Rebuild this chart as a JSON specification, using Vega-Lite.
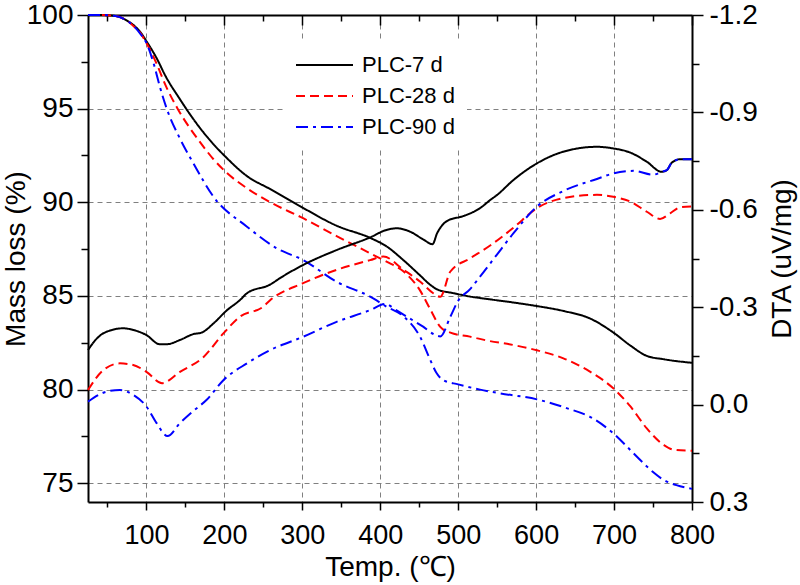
{
  "$schema": "https://vega.github.io/schema/vega-lite/v6.json",
  "width": 604,
  "height": 487,
  "autosize": {"type": "none"},
  "padding": {"left": 88, "top": 15, "right": 108, "bottom": 83},
  "background": "white",
  "config": {
    "view": {"stroke": null},
    "font": "Liberation Sans",
    "axis": {
      "domainColor": "black", "domainWidth": 2, "tickColor": "black", "tickWidth": 1.5,
      "labelColor": "black", "labelFont": "Liberation Sans", "titleColor": "black",
      "titleFont": "Liberation Sans", "titleFontWeight": "normal", "labelFlush": false,
      "labelOverlap": false, "gridColor": "#808080", "gridDash": [5, 4], "gridWidth": 1, "gridOpacity": 1
    }
  },
  "datasets": {
    "tg": [
      {"T":25,"v":100,"sample":"PLC-7 d"},{"T":40,"v":100,"sample":"PLC-7 d"},{"T":60,"v":99.95,"sample":"PLC-7 d"},{"T":75,"v":99.7,"sample":"PLC-7 d"},{"T":85,"v":99.4,"sample":"PLC-7 d"},{"T":92,"v":99.1,"sample":"PLC-7 d"},{"T":100,"v":98.6,"sample":"PLC-7 d"},{"T":113,"v":97.7,"sample":"PLC-7 d"},{"T":125,"v":96.7,"sample":"PLC-7 d"},{"T":143,"v":95.5,"sample":"PLC-7 d"},{"T":155,"v":94.75,"sample":"PLC-7 d"},{"T":169,"v":93.95,"sample":"PLC-7 d"},{"T":186,"v":93.1,"sample":"PLC-7 d"},{"T":201,"v":92.45,"sample":"PLC-7 d"},{"T":229,"v":91.4,"sample":"PLC-7 d"},{"T":259,"v":90.7,"sample":"PLC-7 d"},{"T":301,"v":89.7,"sample":"PLC-7 d"},{"T":344,"v":88.75,"sample":"PLC-7 d"},{"T":387,"v":88.1,"sample":"PLC-7 d"},{"T":408,"v":87.65,"sample":"PLC-7 d"},{"T":430,"v":86.9,"sample":"PLC-7 d"},{"T":451,"v":86.1,"sample":"PLC-7 d"},{"T":464,"v":85.6,"sample":"PLC-7 d"},{"T":473,"v":85.35,"sample":"PLC-7 d"},{"T":494,"v":85.15,"sample":"PLC-7 d"},{"T":515,"v":84.97,"sample":"PLC-7 d"},{"T":537,"v":84.84,"sample":"PLC-7 d"},{"T":571,"v":84.65,"sample":"PLC-7 d"},{"T":601,"v":84.46,"sample":"PLC-7 d"},{"T":635,"v":84.2,"sample":"PLC-7 d"},{"T":669,"v":83.8,"sample":"PLC-7 d"},{"T":699,"v":83.05,"sample":"PLC-7 d"},{"T":721,"v":82.35,"sample":"PLC-7 d"},{"T":742,"v":81.8,"sample":"PLC-7 d"},{"T":764,"v":81.62,"sample":"PLC-7 d"},{"T":800,"v":81.43,"sample":"PLC-7 d"},
      {"T":25,"v":100,"sample":"PLC-28 d"},{"T":40,"v":100,"sample":"PLC-28 d"},{"T":60,"v":99.95,"sample":"PLC-28 d"},{"T":75,"v":99.7,"sample":"PLC-28 d"},{"T":85,"v":99.35,"sample":"PLC-28 d"},{"T":92,"v":99.05,"sample":"PLC-28 d"},{"T":100,"v":98.5,"sample":"PLC-28 d"},{"T":113,"v":97.4,"sample":"PLC-28 d"},{"T":125,"v":96.2,"sample":"PLC-28 d"},{"T":140,"v":95.0,"sample":"PLC-28 d"},{"T":169,"v":93.2,"sample":"PLC-28 d"},{"T":186,"v":92.3,"sample":"PLC-28 d"},{"T":201,"v":91.65,"sample":"PLC-28 d"},{"T":229,"v":90.75,"sample":"PLC-28 d"},{"T":259,"v":90.0,"sample":"PLC-28 d"},{"T":301,"v":89.15,"sample":"PLC-28 d"},{"T":344,"v":88.2,"sample":"PLC-28 d"},{"T":387,"v":87.28,"sample":"PLC-28 d"},{"T":408,"v":86.83,"sample":"PLC-28 d"},{"T":430,"v":86.3,"sample":"PLC-28 d"},{"T":451,"v":85.3,"sample":"PLC-28 d"},{"T":464,"v":84.3,"sample":"PLC-28 d"},{"T":477,"v":83.35,"sample":"PLC-28 d"},{"T":490,"v":83.04,"sample":"PLC-28 d"},{"T":515,"v":82.83,"sample":"PLC-28 d"},{"T":537,"v":82.62,"sample":"PLC-28 d"},{"T":571,"v":82.38,"sample":"PLC-28 d"},{"T":601,"v":82.1,"sample":"PLC-28 d"},{"T":635,"v":81.67,"sample":"PLC-28 d"},{"T":669,"v":80.96,"sample":"PLC-28 d"},{"T":699,"v":80.07,"sample":"PLC-28 d"},{"T":721,"v":79.1,"sample":"PLC-28 d"},{"T":742,"v":77.93,"sample":"PLC-28 d"},{"T":764,"v":77.04,"sample":"PLC-28 d"},{"T":776,"v":76.8,"sample":"PLC-28 d"},{"T":800,"v":76.73,"sample":"PLC-28 d"},
      {"T":25,"v":100,"sample":"PLC-90 d"},{"T":40,"v":100,"sample":"PLC-90 d"},{"T":60,"v":99.95,"sample":"PLC-90 d"},{"T":75,"v":99.7,"sample":"PLC-90 d"},{"T":85,"v":99.35,"sample":"PLC-90 d"},{"T":92,"v":99.0,"sample":"PLC-90 d"},{"T":100,"v":98.5,"sample":"PLC-90 d"},{"T":110,"v":97.3,"sample":"PLC-90 d"},{"T":117,"v":96.2,"sample":"PLC-90 d"},{"T":126,"v":95.0,"sample":"PLC-90 d"},{"T":143,"v":93.4,"sample":"PLC-90 d"},{"T":160,"v":92.1,"sample":"PLC-90 d"},{"T":186,"v":90.3,"sample":"PLC-90 d"},{"T":229,"v":88.7,"sample":"PLC-90 d"},{"T":267,"v":87.55,"sample":"PLC-90 d"},{"T":301,"v":86.92,"sample":"PLC-90 d"},{"T":344,"v":85.76,"sample":"PLC-90 d"},{"T":387,"v":84.96,"sample":"PLC-90 d"},{"T":408,"v":84.43,"sample":"PLC-90 d"},{"T":430,"v":83.9,"sample":"PLC-90 d"},{"T":451,"v":82.83,"sample":"PLC-90 d"},{"T":464,"v":81.6,"sample":"PLC-90 d"},{"T":472,"v":80.9,"sample":"PLC-90 d"},{"T":481,"v":80.5,"sample":"PLC-90 d"},{"T":500,"v":80.28,"sample":"PLC-90 d"},{"T":528,"v":80.0,"sample":"PLC-90 d"},{"T":554,"v":79.8,"sample":"PLC-90 d"},{"T":601,"v":79.48,"sample":"PLC-90 d"},{"T":640,"v":79.0,"sample":"PLC-90 d"},{"T":669,"v":78.55,"sample":"PLC-90 d"},{"T":699,"v":77.67,"sample":"PLC-90 d"},{"T":725,"v":76.6,"sample":"PLC-90 d"},{"T":742,"v":75.9,"sample":"PLC-90 d"},{"T":750,"v":75.6,"sample":"PLC-90 d"},{"T":764,"v":75.17,"sample":"PLC-90 d"},{"T":780,"v":74.9,"sample":"PLC-90 d"},{"T":800,"v":74.7,"sample":"PLC-90 d"}
    ],
    "dta": [
      {"T":25,"v":-0.168,"sample":"PLC-7 d"},{"T":35,"v":-0.2,"sample":"PLC-7 d"},{"T":45,"v":-0.22,"sample":"PLC-7 d"},{"T":70,"v":-0.235,"sample":"PLC-7 d"},{"T":83,"v":-0.23,"sample":"PLC-7 d"},{"T":100,"v":-0.214,"sample":"PLC-7 d"},{"T":117,"v":-0.186,"sample":"PLC-7 d"},{"T":126,"v":-0.186,"sample":"PLC-7 d"},{"T":143,"v":-0.199,"sample":"PLC-7 d"},{"T":160,"v":-0.217,"sample":"PLC-7 d"},{"T":171,"v":-0.222,"sample":"PLC-7 d"},{"T":186,"v":-0.25,"sample":"PLC-7 d"},{"T":203,"v":-0.29,"sample":"PLC-7 d"},{"T":220,"v":-0.322,"sample":"PLC-7 d"},{"T":229,"v":-0.343,"sample":"PLC-7 d"},{"T":259,"v":-0.37,"sample":"PLC-7 d"},{"T":271,"v":-0.389,"sample":"PLC-7 d"},{"T":301,"v":-0.43,"sample":"PLC-7 d"},{"T":344,"v":-0.476,"sample":"PLC-7 d"},{"T":387,"v":-0.515,"sample":"PLC-7 d"},{"T":408,"v":-0.538,"sample":"PLC-7 d"},{"T":421,"v":-0.543,"sample":"PLC-7 d"},{"T":438,"v":-0.533,"sample":"PLC-7 d"},{"T":455,"v":-0.509,"sample":"PLC-7 d"},{"T":467,"v":-0.494,"sample":"PLC-7 d"},{"T":473,"v":-0.528,"sample":"PLC-7 d"},{"T":486,"v":-0.566,"sample":"PLC-7 d"},{"T":507,"v":-0.581,"sample":"PLC-7 d"},{"T":528,"v":-0.605,"sample":"PLC-7 d"},{"T":541,"v":-0.63,"sample":"PLC-7 d"},{"T":550,"v":-0.646,"sample":"PLC-7 d"},{"T":571,"v":-0.692,"sample":"PLC-7 d"},{"T":601,"v":-0.743,"sample":"PLC-7 d"},{"T":635,"v":-0.779,"sample":"PLC-7 d"},{"T":678,"v":-0.794,"sample":"PLC-7 d"},{"T":699,"v":-0.789,"sample":"PLC-7 d"},{"T":721,"v":-0.776,"sample":"PLC-7 d"},{"T":742,"v":-0.748,"sample":"PLC-7 d"},{"T":761,"v":-0.717,"sample":"PLC-7 d"},{"T":768,"v":-0.723,"sample":"PLC-7 d"},{"T":774,"v":-0.745,"sample":"PLC-7 d"},{"T":785,"v":-0.756,"sample":"PLC-7 d"},{"T":800,"v":-0.756,"sample":"PLC-7 d"},
      {"T":25,"v":-0.045,"sample":"PLC-28 d"},{"T":45,"v":-0.107,"sample":"PLC-28 d"},{"T":66,"v":-0.127,"sample":"PLC-28 d"},{"T":83,"v":-0.122,"sample":"PLC-28 d"},{"T":100,"v":-0.101,"sample":"PLC-28 d"},{"T":120,"v":-0.066,"sample":"PLC-28 d"},{"T":143,"v":-0.101,"sample":"PLC-28 d"},{"T":173,"v":-0.146,"sample":"PLC-28 d"},{"T":199,"v":-0.22,"sample":"PLC-28 d"},{"T":220,"v":-0.271,"sample":"PLC-28 d"},{"T":250,"v":-0.302,"sample":"PLC-28 d"},{"T":259,"v":-0.322,"sample":"PLC-28 d"},{"T":301,"v":-0.374,"sample":"PLC-28 d"},{"T":344,"v":-0.415,"sample":"PLC-28 d"},{"T":387,"v":-0.445,"sample":"PLC-28 d"},{"T":404,"v":-0.456,"sample":"PLC-28 d"},{"T":430,"v":-0.415,"sample":"PLC-28 d"},{"T":451,"v":-0.379,"sample":"PLC-28 d"},{"T":468,"v":-0.343,"sample":"PLC-28 d"},{"T":477,"v":-0.332,"sample":"PLC-28 d"},{"T":490,"v":-0.41,"sample":"PLC-28 d"},{"T":515,"v":-0.45,"sample":"PLC-28 d"},{"T":541,"v":-0.49,"sample":"PLC-28 d"},{"T":571,"v":-0.545,"sample":"PLC-28 d"},{"T":601,"v":-0.605,"sample":"PLC-28 d"},{"T":635,"v":-0.636,"sample":"PLC-28 d"},{"T":678,"v":-0.646,"sample":"PLC-28 d"},{"T":699,"v":-0.64,"sample":"PLC-28 d"},{"T":721,"v":-0.625,"sample":"PLC-28 d"},{"T":742,"v":-0.594,"sample":"PLC-28 d"},{"T":759,"v":-0.572,"sample":"PLC-28 d"},{"T":772,"v":-0.589,"sample":"PLC-28 d"},{"T":785,"v":-0.608,"sample":"PLC-28 d"},{"T":800,"v":-0.61,"sample":"PLC-28 d"},
      {"T":25,"v":-0.009,"sample":"PLC-90 d"},{"T":49,"v":-0.04,"sample":"PLC-90 d"},{"T":66,"v":-0.045,"sample":"PLC-90 d"},{"T":83,"v":-0.03,"sample":"PLC-90 d"},{"T":100,"v":0.006,"sample":"PLC-90 d"},{"T":113,"v":0.057,"sample":"PLC-90 d"},{"T":127,"v":0.097,"sample":"PLC-90 d"},{"T":143,"v":0.057,"sample":"PLC-90 d"},{"T":160,"v":0.02,"sample":"PLC-90 d"},{"T":177,"v":-0.014,"sample":"PLC-90 d"},{"T":199,"v":-0.076,"sample":"PLC-90 d"},{"T":229,"v":-0.127,"sample":"PLC-90 d"},{"T":259,"v":-0.168,"sample":"PLC-90 d"},{"T":301,"v":-0.209,"sample":"PLC-90 d"},{"T":344,"v":-0.255,"sample":"PLC-90 d"},{"T":387,"v":-0.291,"sample":"PLC-90 d"},{"T":406,"v":-0.31,"sample":"PLC-90 d"},{"T":421,"v":-0.29,"sample":"PLC-90 d"},{"T":438,"v":-0.265,"sample":"PLC-90 d"},{"T":455,"v":-0.24,"sample":"PLC-90 d"},{"T":470,"v":-0.215,"sample":"PLC-90 d"},{"T":477,"v":-0.21,"sample":"PLC-90 d"},{"T":490,"v":-0.271,"sample":"PLC-90 d"},{"T":500,"v":-0.32,"sample":"PLC-90 d"},{"T":515,"v":-0.355,"sample":"PLC-90 d"},{"T":528,"v":-0.394,"sample":"PLC-90 d"},{"T":550,"v":-0.463,"sample":"PLC-90 d"},{"T":571,"v":-0.528,"sample":"PLC-90 d"},{"T":601,"v":-0.61,"sample":"PLC-90 d"},{"T":635,"v":-0.658,"sample":"PLC-90 d"},{"T":678,"v":-0.695,"sample":"PLC-90 d"},{"T":699,"v":-0.712,"sample":"PLC-90 d"},{"T":725,"v":-0.72,"sample":"PLC-90 d"},{"T":750,"v":-0.708,"sample":"PLC-90 d"},{"T":761,"v":-0.717,"sample":"PLC-90 d"},{"T":768,"v":-0.723,"sample":"PLC-90 d"},{"T":774,"v":-0.745,"sample":"PLC-90 d"},{"T":785,"v":-0.756,"sample":"PLC-90 d"},{"T":800,"v":-0.756,"sample":"PLC-90 d"}
    ]
  },
  "layer": [
    {
      "data": {"name": "tg"},
      "layer": [
        {
          "mark": {"type": "line", "strokeWidth": 2, "interpolate": "monotone"},
          "encoding": {
            "x": {"field": "T", "type": "quantitative", "scale": {"domain": [25, 800], "nice": false, "zero": false},
              "axis": {"orient": "bottom", "values": [100,200,300,400,500,600,700,800], "tickSize": 8, "labelFontSize": 27, "labelPadding": 12, "title": "Temp. (℃)", "titleFontSize": 28, "titlePadding": 5, "grid": true}},
            "y": {"field": "v", "type": "quantitative", "scale": {"domain": [74, 100], "nice": false, "zero": false},
              "axis": {"orient": "left", "values": [75,80,85,90,95,100], "tickSize": 11, "labelFontSize": 28, "labelPadding": 4, "title": "Mass loss (%)", "titleFontSize": 28, "titlePadding": -4, "grid": true}},
            "color": {"field": "sample", "type": "nominal",
              "scale": {"domain": ["PLC-7 d","PLC-28 d","PLC-90 d"], "range": ["#000000","#ff0000","#0000ff"]},
              "legend": {"title": null, "orient": "none", "legendX": 195, "legendY": 27, "symbolType": "stroke", "symbolSize": 3249, "symbolStrokeWidth": 2, "clipHeight": 22, "labelFontSize": 22, "labelFont": "Liberation Sans", "labelColor": "black", "labelOffset": 8, "rowPadding": 9, "padding": 12, "fillColor": "white", "strokeColor": null}},
            "strokeDash": {"field": "sample", "type": "nominal",
              "scale": {"domain": ["PLC-7 d","PLC-28 d","PLC-90 d"], "range": [[1,0],[9,5],[12,5,3,5]]},
              "legend": {"title": null, "orient": "none", "legendX": 195, "legendY": 27, "symbolType": "stroke", "symbolSize": 3249, "symbolStrokeWidth": 2, "clipHeight": 22, "labelFontSize": 22, "labelFont": "Liberation Sans", "labelColor": "black", "labelOffset": 8, "rowPadding": 9, "padding": 12, "fillColor": "white", "strokeColor": null}}
          }
        },
        {
          "mark": {"type": "point", "opacity": 0},
          "encoding": {
            "x": {"field": "T", "type": "quantitative", "scale": {"domain": [25, 800], "nice": false, "zero": false},
              "axis": {"orient": "bottom", "values": [50,150,250,350,450,550,650,750], "tickSize": 5, "labels": false, "domain": false, "grid": false, "title": null}},
            "y": {"field": "v", "type": "quantitative", "scale": {"domain": [74, 100], "nice": false, "zero": false},
              "axis": {"orient": "left", "values": [77.5,82.5,87.5,92.5,97.5], "tickSize": 7, "labels": false, "domain": false, "grid": false, "title": null}}
          }
        }
      ],
      "resolve": {"axis": {"x": "independent", "y": "independent"}}
    },
    {
      "data": {"name": "dta"},
      "layer": [
        {
          "mark": {"type": "line", "strokeWidth": 2, "interpolate": "monotone"},
          "encoding": {
            "x": {"field": "T", "type": "quantitative", "scale": {"domain": [25, 800], "nice": false, "zero": false},
              "axis": {"orient": "top", "values": [100,200,300,400,500,600,700,800], "tickSize": -10, "labels": false, "grid": false, "title": null}},
            "y": {"field": "v", "type": "quantitative", "scale": {"domain": [-1.2, 0.3], "nice": false, "zero": false, "reverse": true},
              "axis": {"orient": "right", "values": [-1.2,-0.9,-0.6,-0.3,0,0.3], "tickSize": 11, "labelFontSize": 28, "labelPadding": 6, "labelExpr": "replace(format(datum.value, '.1f'), '\u2212', '-')", "title": "DTA (uV/mg)", "titleFontSize": 28, "titleAngle": 270, "titleBaseline": "top", "titlePadding": 11, "grid": false}},
            "color": {"field": "sample", "type": "nominal",
              "scale": {"domain": ["PLC-7 d","PLC-28 d","PLC-90 d"], "range": ["#000000","#ff0000","#0000ff"]},
              "legend": {"title": null, "orient": "none", "legendX": 195, "legendY": 27, "symbolType": "stroke", "symbolSize": 3249, "symbolStrokeWidth": 2, "clipHeight": 22, "labelFontSize": 22, "labelFont": "Liberation Sans", "labelColor": "black", "labelOffset": 8, "rowPadding": 9, "padding": 12, "fillColor": "white", "strokeColor": null}},
            "strokeDash": {"field": "sample", "type": "nominal",
              "scale": {"domain": ["PLC-7 d","PLC-28 d","PLC-90 d"], "range": [[1,0],[9,5],[12,5,3,5]]},
              "legend": {"title": null, "orient": "none", "legendX": 195, "legendY": 27, "symbolType": "stroke", "symbolSize": 3249, "symbolStrokeWidth": 2, "clipHeight": 22, "labelFontSize": 22, "labelFont": "Liberation Sans", "labelColor": "black", "labelOffset": 8, "rowPadding": 9, "padding": 12, "fillColor": "white", "strokeColor": null}}
          }
        },
        {
          "mark": {"type": "point", "opacity": 0},
          "encoding": {
            "x": {"field": "T", "type": "quantitative", "scale": {"domain": [25, 800], "nice": false, "zero": false},
              "axis": {"orient": "top", "values": [50,150,250,350,450,550,650,750], "tickSize": -6, "labels": false, "domain": false, "grid": false, "title": null}},
            "y": {"field": "v", "type": "quantitative", "scale": {"domain": [-1.2, 0.3], "nice": false, "zero": false, "reverse": true},
              "axis": {"orient": "right", "values": [-1.05,-0.75,-0.45,-0.15,0.15], "tickSize": 7, "labels": false, "domain": false, "grid": false, "title": null}}
          }
        }
      ],
      "resolve": {"axis": {"x": "independent", "y": "independent"}}
    }
  ],
  "resolve": {"scale": {"y": "independent"}, "axis": {"x": "independent", "y": "independent"}}
}
